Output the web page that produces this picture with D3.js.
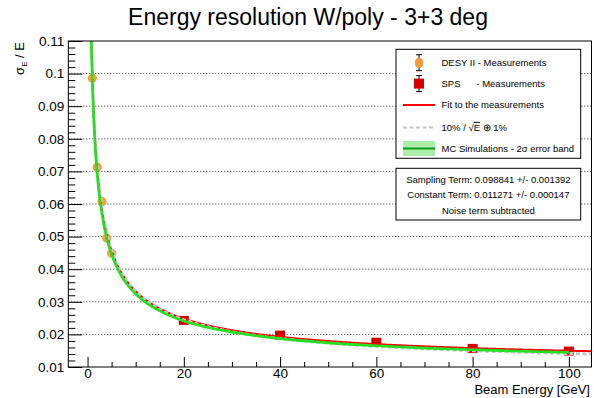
<!DOCTYPE html>
<html>
<head>
<meta charset="utf-8">
<script src="https://cdn.jsdelivr.net/npm/d3@7"></script>
<style>
  body { margin: 0; background: #fff; }
  svg { display: block; font-family: "Liberation Sans", Arial, Helvetica, sans-serif; }
</style>
</head>
<body>
<svg id="chart" width="594" height="398"></svg>
<script>
// DESY II test beam points
const desyEnergy = [1, 2, 3, 4, 5];
const desyRes    = [0.0986, 0.0713, 0.0607, 0.0495, 0.0449];
const desyErr    = [0.0008, 0.0006, 0.0005, 0.0004, 0.0004];

// SPS test beam points
const spsEnergy = [20, 40, 60, 80, 100];
const spsRes    = [0.0243, 0.0198, 0.0176, 0.0157, 0.0149];
const spsErr    = [0.0003, 0.0003, 0.0003, 0.0002, 0.0002];

// MC simulation curve with its 2-sigma band half-width
const mcEnergy = [0.7, 0.8, 1, 1.2, 1.5, 2, 2.5, 3, 4, 5, 6, 7, 8, 10, 12, 15, 20, 25, 30, 40, 50, 60, 70, 80, 90, 100];
const mcRes    = [0.1158, 0.1084, 0.0971, 0.0888, 0.0795, 0.0691, 0.0620, 0.0568, 0.0494, 0.0445, 0.0409, 0.0380, 0.0358, 0.0324, 0.0299, 0.0272, 0.0241, 0.0221, 0.0207, 0.0187, 0.0174, 0.0165, 0.0158, 0.0153, 0.01484, 0.01448];
const mcErr    = [0.0012, 0.0011, 0.0010, 0.0009, 0.0008, 0.0007, 0.0006, 0.0005, 0.0005, 0.0004, 0.0004, 0.0004, 0.0003, 0.0003, 0.0003, 0.0003, 0.0002, 0.0002, 0.0002, 0.0002, 0.0002, 0.0002, 0.0002, 0.0002, 0.0002, 0.0002];

// Fit parameters (sigma/E = a/sqrt(E) (+) b) and the reference resolution 10%/sqrt(E) (+) 1%
const samplingTerm = 0.098841, samplingErr = 0.001392;
const constantTerm = 0.011271, constantErr = 0.000147;
const refSampling = 0.10, refConstant = 0.01;

// Axis ticks
const xTicks = [0, 20, 40, 60, 80, 100];
const xMinorTicks = [5, 10, 15, 25, 30, 35, 45, 50, 55, 65, 70, 75, 85, 90, 95];
const yTicks = [0.01, 0.02, 0.03, 0.04, 0.05, 0.06, 0.07, 0.08, 0.09, 0.10, 0.11];
const yTickLabels = ["0.01", "0.02", "0.03", "0.04", "0.05", "0.06", "0.07", "0.08", "0.09", "0.1", "0.11"];
const yGrid = [0.02, 0.03, 0.04, 0.05, 0.06, 0.07, 0.08, 0.09, 0.10];

const svg = d3.select("#chart");
const frame = { left: 68.3, right: 591.5, top: 41, bottom: 367 };

const x = d3.scaleLinear().domain([-4, 104.7]).range([frame.left, frame.right]);
const y = d3.scaleLinear().domain([0.01, 0.11]).range([frame.bottom, frame.top]);

const yMinorTicks = d3.range(0.012, 0.1099, 0.002).filter(v => Math.abs(v * 100 - Math.round(v * 100)) > 1e-6);

svg.append("defs").append("clipPath").attr("id", "plotClip")
  .append("rect").attr("x", frame.left).attr("y", frame.top)
  .attr("width", frame.right - frame.left).attr("height", frame.bottom - frame.top);

// Title
svg.append("text").attr("x", 308).attr("y", 25).attr("text-anchor", "middle")
  .attr("font-size", 23).attr("fill", "#000").text("Energy resolution W/poly - 3+3 deg");

// Horizontal dotted grid
svg.append("g").selectAll("line").data(yGrid).join("line")
  .attr("x1", frame.left).attr("x2", frame.right)
  .attr("y1", d => y(d)).attr("y2", d => y(d))
  .attr("stroke", "#333").attr("stroke-width", 1).attr("stroke-dasharray", "1,2");

const plot = svg.append("g").attr("clip-path", "url(#plotClip)");

// Measurements: error bars then markers
plot.append("g").selectAll("line").data(desyEnergy).join("line")
  .attr("x1", d => x(d)).attr("x2", d => x(d))
  .attr("y1", (d, i) => y(desyRes[i] - desyErr[i])).attr("y2", (d, i) => y(desyRes[i] + desyErr[i]))
  .attr("stroke", "#f59a3a").attr("stroke-width", 1);
plot.append("g").selectAll("circle").data(desyEnergy).join("circle")
  .attr("cx", d => x(d)).attr("cy", (d, i) => y(desyRes[i])).attr("r", 4.6)
  .attr("fill", "#f7a040");

plot.append("g").selectAll("line").data(spsEnergy).join("line")
  .attr("x1", d => x(d)).attr("x2", d => x(d))
  .attr("y1", (d, i) => y(spsRes[i] - spsErr[i])).attr("y2", (d, i) => y(spsRes[i] + spsErr[i]))
  .attr("stroke", "#cc0000").attr("stroke-width", 1);
plot.append("g").selectAll("rect").data(spsEnergy).join("rect")
  .attr("x", d => x(d) - 5).attr("y", (d, i) => y(spsRes[i]) - 4.5)
  .attr("width", 10).attr("height", 9).attr("fill", "#d40000");

// Fit and reference curves
const fitE = d3.range(0.6, 104.8, 0.05);
const fitFn = (a, b) => E => Math.sqrt(a * a / E + b * b);
const fitCurve = fitE.map(E => [E, fitFn(samplingTerm, constantTerm)(E)]);
const refCurve = fitE.map(E => [E, fitFn(refSampling, refConstant)(E)]);
const curveLine = d3.line().x(d => x(d[0])).y(d => y(d[1]));

plot.append("path").attr("d", curveLine(fitCurve))
  .attr("fill", "none").attr("stroke", "#ff0000").attr("stroke-width", 2);
plot.append("path").attr("d", curveLine(refCurve))
  .attr("fill", "none").attr("stroke", "#c8c8c8").attr("stroke-width", 3)
  .attr("stroke-dasharray", "4,2.5");

// MC simulation band and line
const mcPts = mcEnergy.map((E, i) => ({ E, v: mcRes[i], e: mcErr[i] }));
plot.append("path")
  .attr("d", d3.area().x(d => x(d.E)).y0(d => y(d.v - d.e)).y1(d => y(d.v + d.e))
    .curve(d3.curveMonotoneX)(mcPts))
  .attr("fill", "#b4f0b4").attr("opacity", 0.7);
plot.append("path")
  .attr("d", d3.line().x(d => x(d.E)).y(d => y(d.v)).curve(d3.curveMonotoneX)(mcPts))
  .attr("fill", "none").attr("stroke", "#22e022").attr("stroke-width", 2.6);

// Axes
const axisStyle = g => {
  g.select(".domain").remove();
  g.selectAll("line").attr("stroke", "#000");
  g.selectAll("text").attr("font-family", "Liberation Sans, Arial, sans-serif").attr("fill", "#000");
};

svg.append("g").attr("transform", `translate(0,${frame.bottom})`)
  .call(d3.axisBottom(x).tickValues(xTicks).tickSize(-10).tickPadding(1).tickFormat(d3.format("d")))
  .call(axisStyle)
  .call(g => g.selectAll("text").attr("font-size", 13.5).attr("dy", "0.72em"));
svg.append("g").attr("transform", `translate(0,${frame.bottom})`)
  .call(d3.axisBottom(x).tickValues(xMinorTicks).tickSize(-5).tickFormat(""))
  .call(axisStyle);

svg.append("g").attr("transform", `translate(${frame.left},0)`)
  .call(d3.axisLeft(y).tickValues(yTicks).tickSize(-14).tickPadding(4).tickFormat((d, i) => yTickLabels[i]))
  .call(axisStyle)
  .call(g => g.selectAll("text").attr("font-size", 13.5));
svg.append("g").attr("transform", `translate(${frame.left},0)`)
  .call(d3.axisLeft(y).tickValues(yMinorTicks).tickSize(-7).tickFormat(""))
  .call(axisStyle);

// Frame
svg.append("rect").attr("x", frame.left).attr("y", frame.top)
  .attr("width", frame.right - frame.left).attr("height", frame.bottom - frame.top)
  .attr("fill", "none").attr("stroke", "#000").attr("stroke-width", 1);

// Axis titles
svg.append("text").attr("x", 590).attr("y", 394).attr("text-anchor", "end")
  .attr("font-size", 13).text("Beam Energy [GeV]");
const yTitle = svg.append("text").attr("transform", "translate(24,42) rotate(-90)")
  .attr("text-anchor", "end").attr("font-size", 13);
yTitle.append("tspan").text("σ");
yTitle.append("tspan").attr("font-size", 8).attr("dy", 3).text("E");
yTitle.append("tspan").attr("dy", -3).text(" / E");

// Legend
const lg = svg.append("g");
lg.append("rect").attr("x", 396).attr("y", 49.3).attr("width", 184.7).attr("height", 109)
  .attr("fill", "#fff").attr("stroke", "#000").attr("stroke-width", 1);
const rows = [62.7, 83.6, 105, 127.5, 148.5];
const labels = ["DESY II - Measurements", "SPS      - Measurements", "Fit to the measurements", null, "MC Simulations - 2σ error band"];
labels.forEach((t, i) => {
  if (t) lg.append("text").attr("x", 441.5).attr("y", rows[i] + 3.4).attr("font-size", 9.5)
    .attr("xml:space", "preserve").style("white-space", "pre").text(t);
});
const refLabel = lg.append("text").attr("x", 441.5).attr("y", rows[3] + 3.4).attr("font-size", 9.5);
refLabel.append("tspan").text("10% / ");
refLabel.append("tspan").text("√");
refLabel.append("tspan").attr("text-decoration", "overline").text("E");
refLabel.append("tspan").text(" ⊕ 1%");

const mx = 419;
// DESY marker with error bar
lg.append("line").attr("x1", mx).attr("x2", mx).attr("y1", rows[0] - 8).attr("y2", rows[0] + 8).attr("stroke", "#000");
[rows[0] - 8, rows[0] + 8].forEach(yy => lg.append("line").attr("x1", mx - 3).attr("x2", mx + 3).attr("y1", yy).attr("y2", yy).attr("stroke", "#000"));
lg.append("ellipse").attr("cx", mx).attr("cy", rows[0]).attr("rx", 4.3).attr("ry", 5.2).attr("fill", "#f59a3a");
// SPS marker with error bar
lg.append("line").attr("x1", mx).attr("x2", mx).attr("y1", rows[1] - 8).attr("y2", rows[1] + 8).attr("stroke", "#000");
[rows[1] - 8, rows[1] + 8].forEach(yy => lg.append("line").attr("x1", mx - 3).attr("x2", mx + 3).attr("y1", yy).attr("y2", yy).attr("stroke", "#000"));
lg.append("rect").attr("x", mx - 5).attr("y", rows[1] - 5).attr("width", 10).attr("height", 10).attr("fill", "#d40000");
// Fit line
lg.append("line").attr("x1", 403).attr("x2", 435).attr("y1", rows[2]).attr("y2", rows[2]).attr("stroke", "#ff0000").attr("stroke-width", 2);
// Reference dashed line
lg.append("line").attr("x1", 403).attr("x2", 435).attr("y1", rows[3]).attr("y2", rows[3]).attr("stroke", "#c8c8c8").attr("stroke-width", 2).attr("stroke-dasharray", "4,2.5");
// MC band + line
lg.append("rect").attr("x", 403).attr("y", rows[4] - 7.5).attr("width", 32).attr("height", 15).attr("fill", "#aaeeaa");
lg.append("line").attr("x1", 403).attr("x2", 435).attr("y1", rows[4]).attr("y2", rows[4]).attr("stroke", "#0a9a1a").attr("stroke-width", 2);

// Fit results box
const sb = svg.append("g");
sb.append("rect").attr("x", 396).attr("y", 168.3).attr("width", 184.7).attr("height", 51.7)
  .attr("fill", "#fff").attr("stroke", "#000").attr("stroke-width", 1);
const statLines = [
  `Sampling Term: ${samplingTerm.toFixed(6)} +/- ${samplingErr.toFixed(6)}`,
  `Constant Term: ${constantTerm.toFixed(6)} +/- ${constantErr.toFixed(6)}`,
  "Noise term subtracted"
];
const statRows = [179.2, 194.6, 210.8];
statLines.forEach((t, i) => sb.append("text").attr("x", 488.4).attr("y", statRows[i] + 3.4)
  .attr("text-anchor", "middle").attr("font-size", 9.5).text(t));
</script>
</body>
</html>
